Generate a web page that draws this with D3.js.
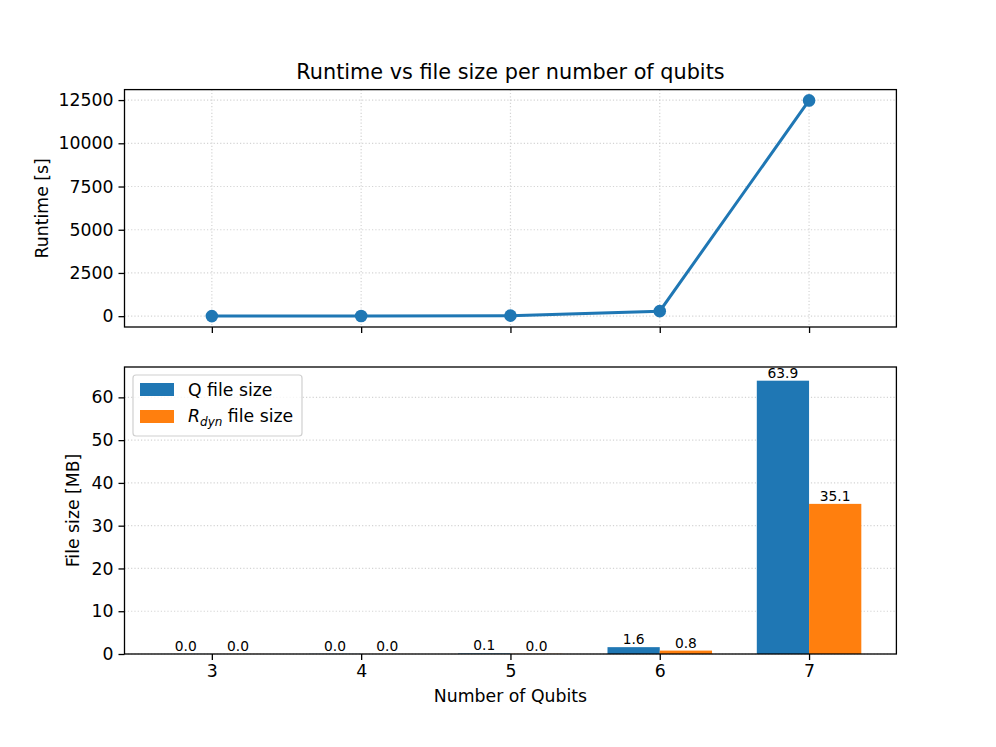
<!DOCTYPE html>
<html><head><meta charset="utf-8">
<script src="https://cdn.jsdelivr.net/npm/d3@7"></script>
<style>body{margin:0;background:#fff;} svg{font-family:"DejaVu Sans",sans-serif;}</style>
</head><body><svg id="c" width="996" height="747"></svg>
<script>
const qubits = [3, 4, 5, 6, 7];
const runtime = [5, 10, 30, 290, 12480];
const qFileSize = [0.01, 0.03, 0.12, 1.6, 63.9];
const rFileSize = [0.01, 0.01, 0.04, 0.8, 35.1];
const runtimeTicks = [0, 2500, 5000, 7500, 10000, 12500];
const sizeTicks = [0, 10, 20, 30, 40, 50, 60];
const seriesNames = ["Q file size", "R_dyn file size"];
const colors = ["#1f77b4", "#ff7f0e"];

const FS = 17.3;
const svg = d3.select("#c");
const L = 124.5, R = 896.4;
const top1 = 89.6, bot1 = 327, top2 = 367, bot2 = 654;
const barW = 0.35;
const x = d3.scaleLinear().domain([2.415, 7.585]).range([L, R]);
const y1 = d3.scaleLinear().domain([-626, 13106]).range([bot1, top1]);
const y2 = d3.scaleLinear().domain([0, 67.1]).range([bot2, top2]);

// Title
svg.append("text").attr("x", (L+R)/2).attr("y", 79).attr("text-anchor","middle")
  .attr("font-size", 20.8).text("Runtime vs file size per number of qubits");

function gridLine(g, x1, x2, yA, yB) {
  g.append("line").attr("x1", x1).attr("x2", x2).attr("y1", yA).attr("y2", yB)
    .attr("stroke", "#b0b0b0").attr("stroke-opacity", 0.55).attr("stroke-width", 1.2).attr("stroke-dasharray", "1.2,2.1");
}
function grid(g, yscale, ticks, top, bot, vertical) {
  ticks.forEach(t => gridLine(g, L, R, yscale(t), yscale(t)));
  if (vertical) qubits.forEach(q => gridLine(g, x(q), x(q), top, bot));
}

// Top panel
const g1 = svg.append("g");
grid(g1, y1, runtimeTicks, top1, bot1, true);
const line = d3.line().x((d,i)=>x(qubits[i])).y(d=>y1(d));
g1.append("path").datum(runtime).attr("d", line).attr("fill","none").attr("stroke", colors[0]).attr("stroke-width", 3);
g1.selectAll("circle").data(runtime).join("circle").attr("cx",(d,i)=>x(qubits[i])).attr("cy",d=>y1(d)).attr("r",6.3).attr("fill",colors[0]);
g1.append("g").attr("transform",`translate(${L},0)`).call(d3.axisLeft(y1).tickValues(runtimeTicks).tickSize(6).tickPadding(5).tickFormat(d3.format("d")));
g1.append("g").attr("transform",`translate(0,${bot1})`).call(d3.axisBottom(x).tickValues(qubits).tickSize(6).tickFormat(""));
g1.append("rect").attr("x",L).attr("y",top1).attr("width",R-L).attr("height",bot1-top1).attr("fill","none").attr("stroke","#000").attr("stroke-width",1.3);
g1.append("text").attr("transform",`translate(48,${(top1+bot1)/2}) rotate(-90)`).attr("text-anchor","middle").attr("font-size",FS).text("Runtime [s]");

// Bottom panel
const g2 = svg.append("g");
grid(g2, y2, sizeTicks, top2, bot2, false);
[qFileSize, rFileSize].forEach((arr, s) => {
  const off = s === 0 ? -barW : 0;
  g2.selectAll(".b"+s).data(arr).join("rect").attr("class","b"+s)
    .attr("x",(d,i)=>x(qubits[i]+off)).attr("width", x(barW)-x(0))
    .attr("y",d=>y2(d)).attr("height",d=>y2(0)-y2(d)).attr("fill",colors[s]);
  g2.selectAll(".t"+s).data(arr).join("text").attr("class","t"+s)
    .attr("x",(d,i)=>x(qubits[i]+off+barW/2)).attr("y",d=>y2(d)-3)
    .attr("text-anchor","middle").attr("font-size",13.8).text(d=>d.toFixed(1));
});
g2.append("g").attr("transform",`translate(${L},0)`).call(d3.axisLeft(y2).tickValues(sizeTicks).tickSize(6).tickPadding(5).tickFormat(d3.format("d")));
g2.append("g").attr("transform",`translate(0,${bot2})`).call(d3.axisBottom(x).tickValues(qubits).tickSize(6).tickPadding(5).tickFormat(d3.format("d")));
g2.append("rect").attr("x",L).attr("y",top2).attr("width",R-L).attr("height",bot2-top2).attr("fill","none").attr("stroke","#000").attr("stroke-width",1.3);
g2.append("text").attr("transform",`translate(79,${(top2+bot2)/2}) rotate(-90)`).attr("text-anchor","middle").attr("font-size",FS).text("File size [MB]");
svg.append("text").attr("x",(L+R)/2).attr("y",702).attr("text-anchor","middle").attr("font-size",FS).text("Number of Qubits");

// axis styling
svg.selectAll(".domain").remove();
svg.selectAll(".tick line").attr("stroke","#000").attr("stroke-width",1.3);
svg.selectAll(".tick text").attr("font-size",FS).attr("fill","#000").attr("font-family","DejaVu Sans");

// Legend
const lg = svg.append("g");
lg.append("rect").attr("x",133).attr("y",375).attr("width",169).attr("height",61).attr("rx",3)
  .attr("fill","#fff").attr("fill-opacity",0.8).attr("stroke","#d0d0d0").attr("stroke-width",1.2);
[0,1].forEach(i => {
  const yy = 383 + i*27;
  lg.append("rect").attr("x",140).attr("y",yy).attr("width",34).attr("height",13).attr("fill",colors[i]);
});
lg.append("text").attr("x",188).attr("y",396).attr("font-size",FS).text(seriesNames[0]);
const t2 = lg.append("text").attr("x",188).attr("y",422).attr("font-size",FS);
t2.append("tspan").attr("font-style","italic").text("R");
t2.append("tspan").attr("font-style","italic").attr("font-size",12).attr("dy",3.5).text("dyn");
t2.append("tspan").attr("dy",-3.5).text(" file size");
</script>
</body></html>
